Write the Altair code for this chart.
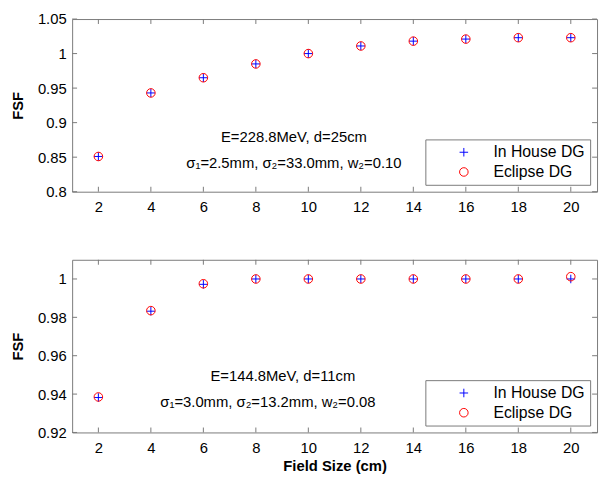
import altair as alt
import pandas as pd

# ---- data ----
field_size = [2, 4, 6, 8, 10, 12, 14, 16, 18, 20]
top_inhouse = [0.851, 0.943, 0.965, 0.985, 1.000, 1.011, 1.018, 1.021, 1.023, 1.023]
top_eclipse = [0.851, 0.943, 0.965, 0.985, 1.000, 1.011, 1.018, 1.021, 1.023, 1.023]
bot_inhouse = [0.9382, 0.9832, 0.9972, 1.000, 1.000, 1.000, 1.000, 1.000, 1.000, 1.000]
bot_eclipse = [0.9385, 0.9835, 0.9975, 1.000, 1.000, 1.000, 1.000, 1.000, 1.000, 1.0012]

series_names = ["In House DG", "Eclipse DG"]
series_colors = ["#0000ff", "#ff0000"]
series_shapes = ["M-1,0L1,0M0,-1L0,1", "circle"]

top_domain = [0.8, 1.05]
top_yticks = [0.8, 0.85, 0.9, 0.95, 1.0, 1.05]
bot_domain = [0.92, 1.01]
bot_yticks = [0.92, 0.94, 0.96, 0.98, 1.0]
x_domain = [1, 21]

top_notes = ["E=228.8MeV, d=25cm", "σ₁=2.5mm, σ₂=33.0mm, w₂=0.10"]
top_note_x = [9.45, 9.45]
top_note_y = [0.8795, 0.8414]
bot_notes = ["E=144.8MeV, d=11cm", "σ₁=3.0mm, σ₂=13.2mm, w₂=0.08"]
bot_note_x = [9.03, 8.46]
bot_note_y = [0.9494, 0.9357]

# ---- style ----
W, H = 532, 175
FONT = "Liberation Sans"
GRAY = "#7a7a7a"
TICK = 5


def panel(inhouse, eclipse, domain, yticks, nx, ny, notes, xtitle):
    pts = pd.DataFrame({
        "x": field_size + field_size,
        "y": inhouse + eclipse,
        "series": [series_names[0]] * len(field_size) + [series_names[1]] * len(field_size),
    })
    xscale = alt.Scale(domain=x_domain, nice=False, zero=False)
    yscale = alt.Scale(domain=domain, nice=False, zero=False)
    xaxis = alt.Axis(values=field_size, ticks=False, tickSize=0, domain=False, grid=False,
                     labelFontSize=15, labelFont=FONT, labelColor="black", labelPadding=8,
                     titleFontSize=15, titleFont=FONT, titleFontWeight="bold", titleColor="black",
                     titlePadding=4)
    yaxis = alt.Axis(values=yticks, ticks=False, tickSize=0, domain=False, grid=False, format="~g",
                     labelFontSize=15, labelFont=FONT, labelColor="black", labelPadding=6,
                     titleFontSize=15, titleFont=FONT, titleFontWeight="bold", titleColor="black",
                     titleX=-55, titleY=H / 2, titleAlign="center", titleBaseline="middle", titleAngle=270)
    x_enc = alt.X("x:Q", scale=xscale, axis=xaxis, title=xtitle)
    y_enc = alt.Y("y:Q", scale=yscale, axis=yaxis, title="FSF")

    legend = alt.Legend(title=None, orient="bottom-right", offset=7, strokeColor=GRAY,
                        fillColor="white", padding=5, labelFontSize=16, labelFont=FONT,
                        labelColor="black", symbolOffset=26, labelOffset=22, rowPadding=4,
                        symbolSize=75, symbolStrokeWidth=1, cornerRadius=0)

    points = alt.Chart(pts).mark_point(filled=False, size=75, strokeWidth=1, opacity=1).encode(
        x=x_enc, y=y_enc,
        color=alt.Color("series:N", scale=alt.Scale(domain=series_names, range=series_colors), legend=legend),
        shape=alt.Shape("series:N", scale=alt.Scale(domain=series_names, range=series_shapes), legend=legend),
    )

    xt = pd.DataFrame({"x": field_size})
    yt = pd.DataFrame({"y": yticks})
    rule = dict(color=GRAY, strokeWidth=1)
    xb = alt.Chart(xt).mark_rule(**rule).encode(x=x_enc, y=alt.value(H), y2=alt.value(H - TICK))
    xtop = alt.Chart(xt).mark_rule(**rule).encode(x=x_enc, y=alt.value(0), y2=alt.value(TICK))
    yl = alt.Chart(yt).mark_rule(**rule).encode(y=y_enc, x=alt.value(0), x2=alt.value(TICK))
    yr = alt.Chart(yt).mark_rule(**rule).encode(y=y_enc, x=alt.value(W), x2=alt.value(W - TICK))

    nd = pd.DataFrame({"x": nx, "y": ny, "t": notes})
    text = alt.Chart(nd).mark_text(fontSize=15, font=FONT, align="center", baseline="middle",
                                   color="black").encode(x=x_enc, y=y_enc, text="t:N")

    return alt.layer(xb, xtop, yl, yr, text, points).properties(width=W, height=H)


top = panel(top_inhouse, top_eclipse, top_domain, top_yticks, top_note_x, top_note_y, top_notes, None)
bot = panel(bot_inhouse, bot_eclipse, bot_domain, bot_yticks, bot_note_x, bot_note_y, bot_notes,
            "Field Size (cm)")

chart = alt.vconcat(top, bot, spacing=69, bounds="flush").resolve_scale(
    color="independent", shape="independent", y="independent", x="independent"
).properties(
    padding={"left": 2, "top": 0, "right": 2, "bottom": 2},
    background="white",
).configure_view(stroke=GRAY, strokeWidth=1)

chart.save("out.html", embed_options={"renderer": "svg", "actions": False})
